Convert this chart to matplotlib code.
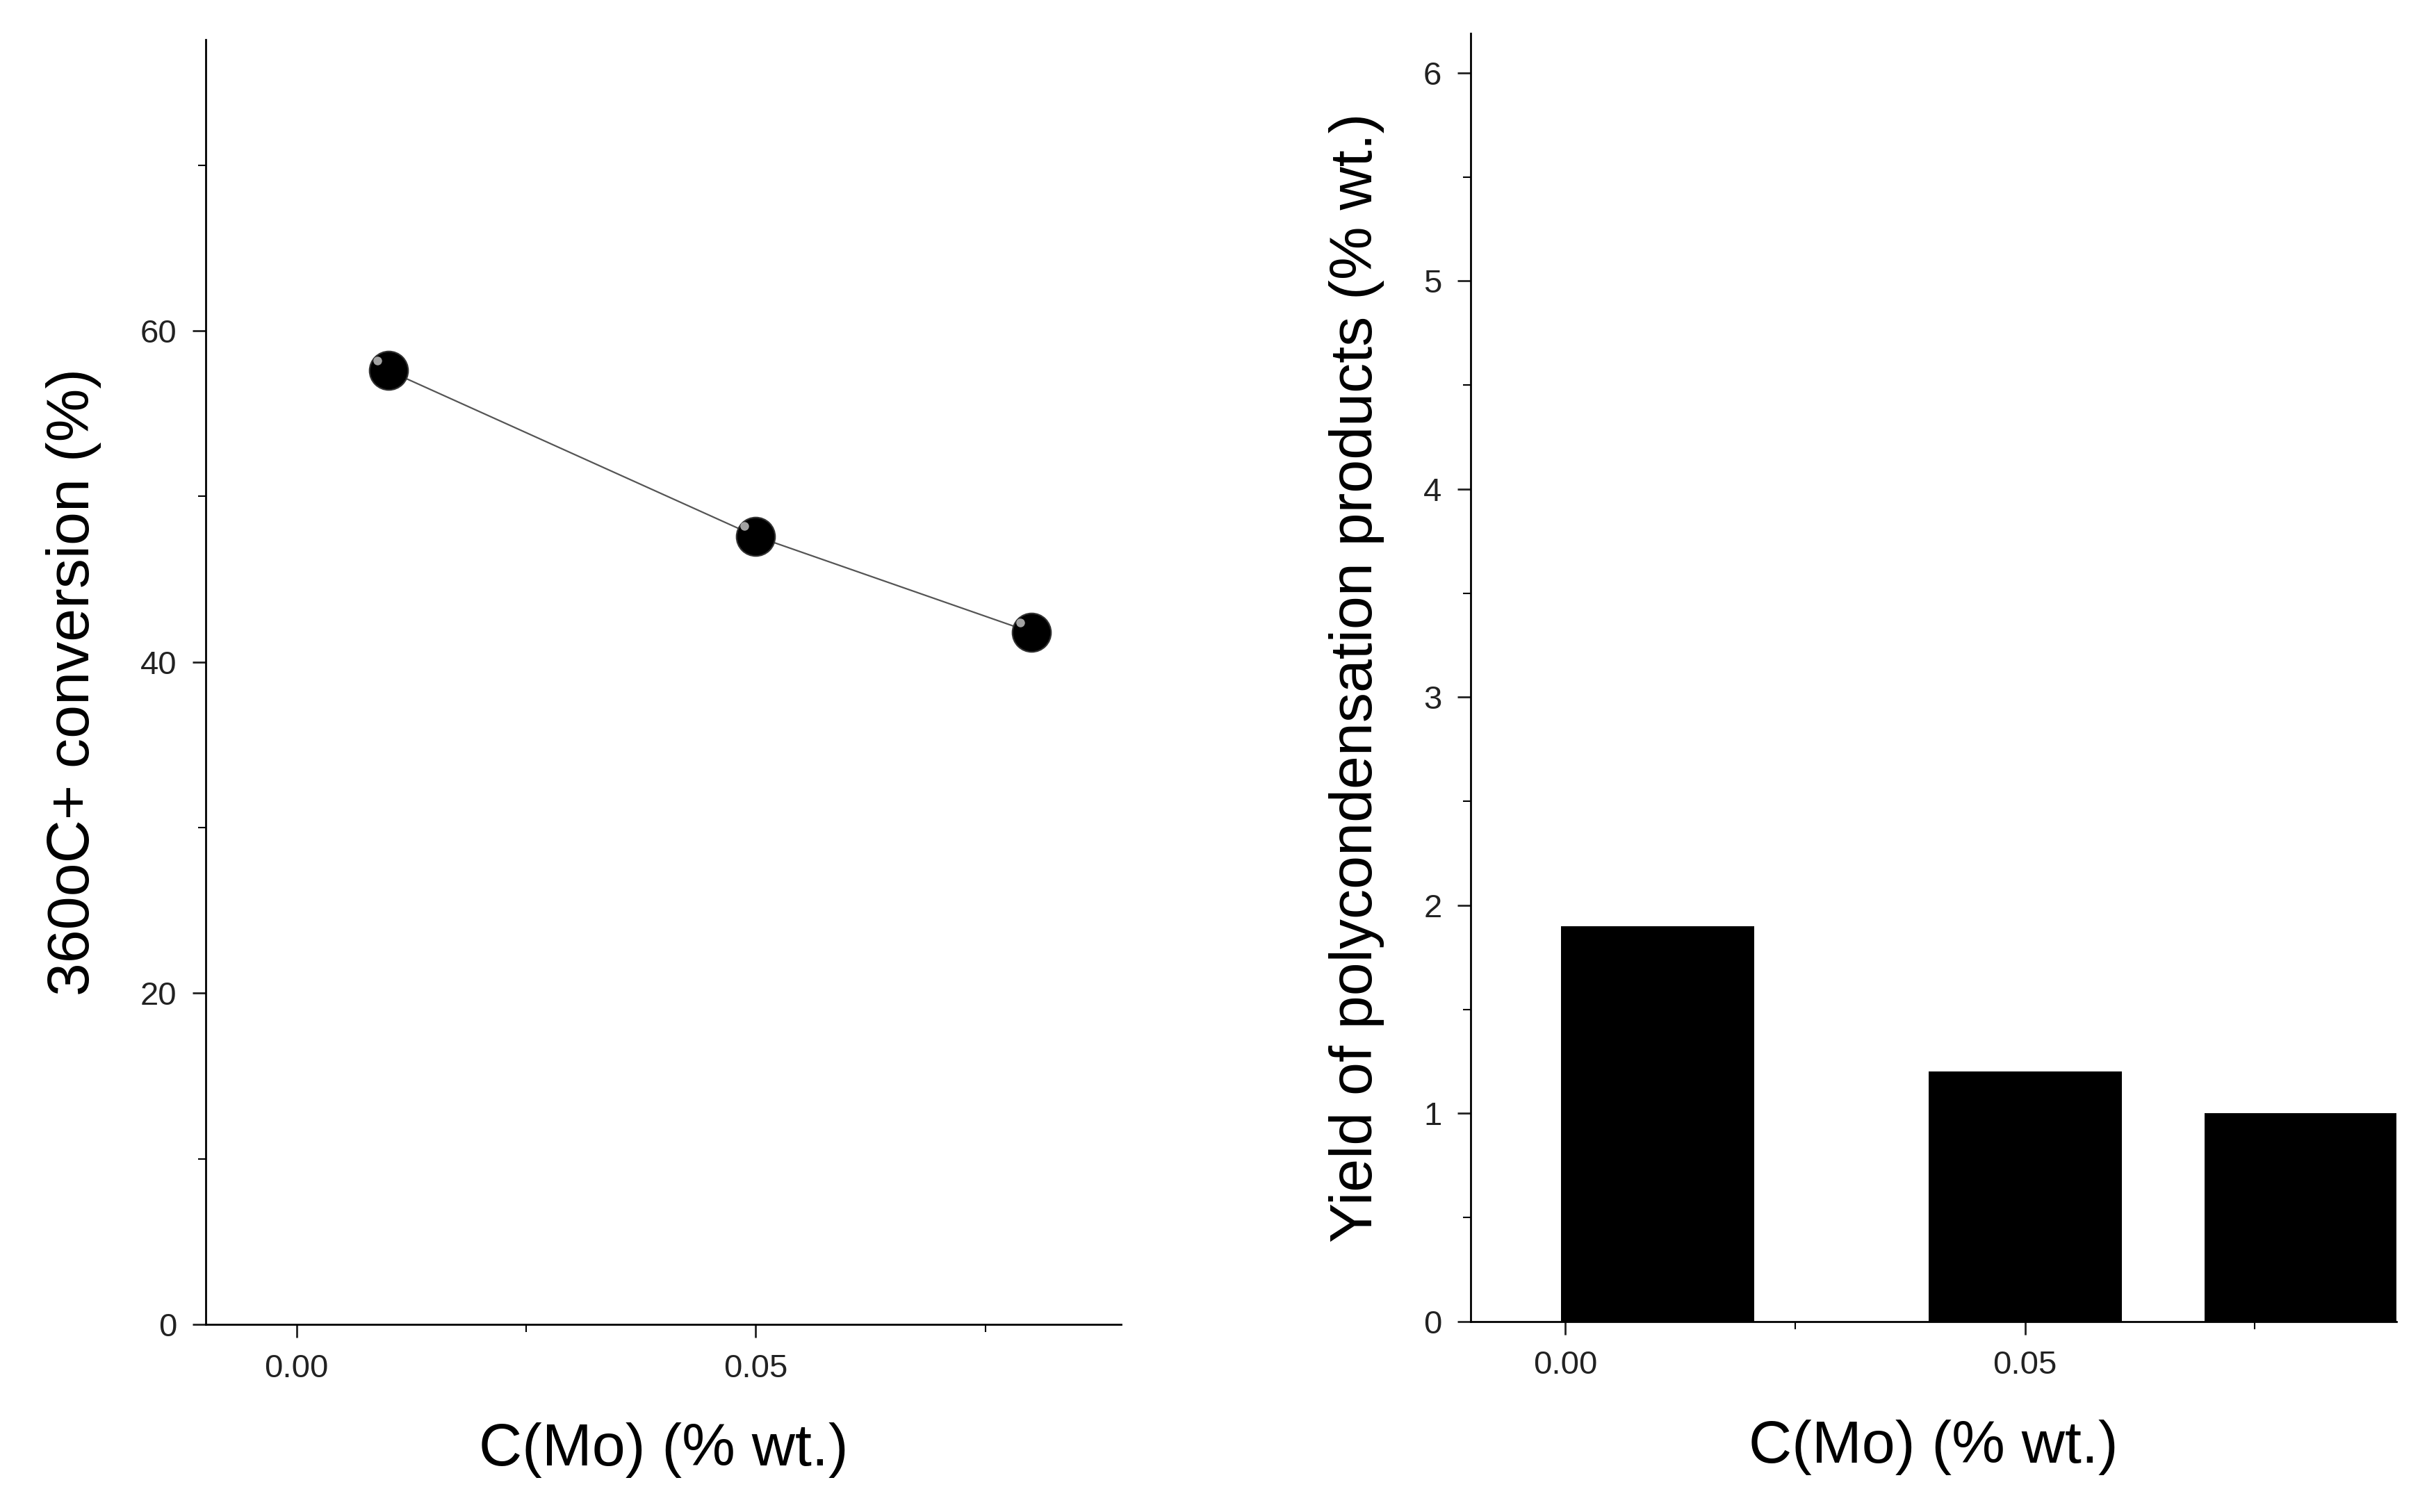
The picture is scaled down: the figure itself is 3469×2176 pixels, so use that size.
import matplotlib.pyplot as plt
from matplotlib.ticker import MultipleLocator

plt.rcParams['font.family'] = ['Liberation Sans', 'DejaVu Sans']

# data
mo_conc = [0.01, 0.05, 0.08]
conversion = [57.6, 47.6, 41.8]
poly_yield = [1.9, 1.2, 1.0]

fig = plt.figure(figsize=(34.69, 21.76), dpi=100)
ax1 = fig.add_axes([0.0853, 0.124, 0.3797, 0.850])
ax2 = fig.add_axes([0.610, 0.126, 0.384, 0.852])

def style(ax):
    for s in ['top', 'right']:
        ax.spines[s].set_visible(False)
    for s in ['left', 'bottom']:
        ax.spines[s].set_linewidth(2)
    ax.tick_params(which='major', direction='out', length=14, width=2,
                   labelsize=34, colors='#222222', pad=16)
    ax.tick_params(which='minor', direction='out', length=8, width=1.5)
    ax.xaxis.set_major_locator(MultipleLocator(0.05))
    ax.xaxis.set_minor_locator(MultipleLocator(0.025))
    ax.xaxis.set_major_formatter(lambda v, p: f"{v:.2f}")
    ax.set_xlabel("C(Mo) (% wt.)", fontsize=62, labelpad=40)

# left: conversion
ax1.plot(mo_conc, conversion, color='#555555', lw=1.6, zorder=1)
ax1.plot(mo_conc, conversion, 'o', ms=40, mfc='black', mec='#333333', mew=1.5, zorder=2)
ax1.plot([x - 0.0012 for x in mo_conc], [y + 0.6 for y in conversion], 'o', ms=9,
         mfc='#cccccc', mec='none', alpha=0.8, zorder=3)
ax1.set_xlim(-0.0099, 0.0898)
ax1.set_ylim(0, 77.6)
ax1.yaxis.set_major_locator(MultipleLocator(20))
ax1.yaxis.set_minor_locator(MultipleLocator(10))
style(ax1)
ax1.set_ylabel("360oC+ conversion (%)", fontsize=62, labelpad=40)

# right: polycondensation yield
ax2.bar(mo_conc, poly_yield, width=0.021, color='black')
ax2.set_xlim(-0.0103, 0.0904)
ax2.set_ylim(0, 6.19)
ax2.yaxis.set_major_locator(MultipleLocator(1))
ax2.yaxis.set_minor_locator(MultipleLocator(0.5))
style(ax2)
ax2.set_ylabel("Yield of polycondensation products (% wt.)", fontsize=62, labelpad=40)

fig.savefig("out.png", dpi=100, facecolor='white')
